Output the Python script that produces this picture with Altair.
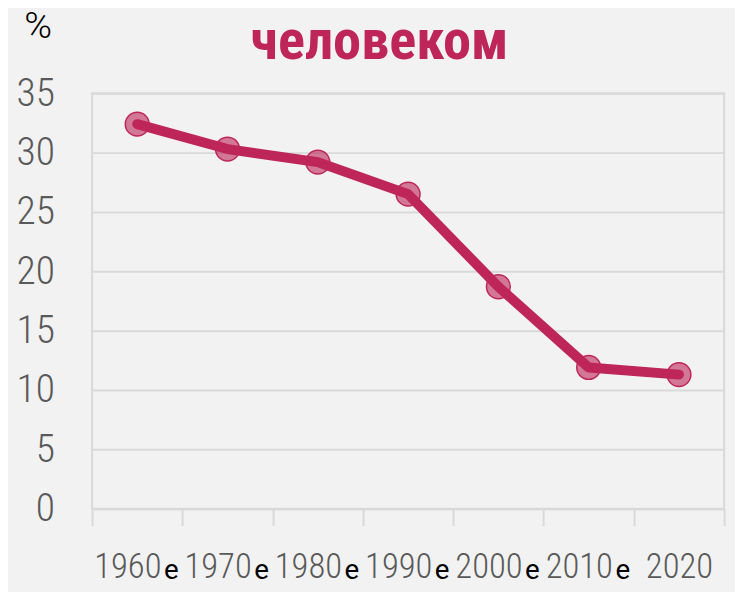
import altair as alt
import pandas as pd

decades = ["1960", "1970", "1980", "1990", "2000", "2010", "2020"]
suffixes = ["е", "е", "е", "е", "е", "е", ""]
values = [32.4, 30.3, 29.2, 26.5, 18.7, 11.9, 11.3]
y_ticks = [0, 5, 10, 15, 20, 25, 30, 35]

df = pd.DataFrame({"decade": decades, "suffix": suffixes, "value": values})

LINE = "#be2558"
GRID = "#d9d9d9"
LABEL = "#595959"
COND_FONT = "'Roboto Condensed', 'Liberation Sans Narrow', 'DejaVu Sans Condensed', Roboto, sans-serif"

x_enc = alt.X(
    "decade:N",
    sort=decades,
    scale=alt.Scale(type="band", paddingInner=0, paddingOuter=0),
    axis=alt.Axis(
        title=None,
        tickBand="extent",
        grid=False,
        domainColor=GRID,
        domainWidth=2,
        tickColor=GRID,
        tickWidth=2,
        tickSize=17,
        labelAngle=0,
        labelFont=COND_FONT,
        labelFontWeight=300,
        labelFontSize=35,
        labelColor=LABEL,
        labelBaseline="alphabetic",
        labelPadding=53,
        labelOffset={"condition": {"test": "datum.value == '2020'", "value": 0}, "value": -10},
    ),
)

y_enc = alt.Y(
    "value:Q",
    scale=alt.Scale(domain=[0, 35], nice=False),
    axis=alt.Axis(
        values=y_ticks,
        title="%",
        titleAngle=0,
        titleX=-55,
        titleY=-67,
        titleAlign="center",
        titleBaseline="middle",
        titleFont="Roboto",
        titleFontWeight=300,
        titleFontSize=38,
        titleColor="#000000",
        domain=False,
        ticks=False,
        gridColor=GRID,
        gridWidth=2,
        labelFont=COND_FONT,
        labelFontWeight=300,
        labelFontSize=40,
        labelColor=LABEL,
        labelPadding=38,
        labelBaseline="middle",
    ),
)

points = alt.Chart(df).mark_circle(
    size=580, color=LINE, fillOpacity=0.6, stroke=LINE, strokeWidth=1.5, opacity=1
).encode(x=x_enc, y=y_enc)

line = alt.Chart(df).mark_line(
    color=LINE, strokeWidth=10, strokeCap="round", strokeJoin="round"
).encode(x=x_enc, y=y_enc)

suffix_text = alt.Chart(df).mark_text(
    align="left", baseline="alphabetic", dx=27, font="Roboto", fontSize=28, color="#000000"
).encode(x=x_enc, y=alt.value(491), text="suffix:N")

chart = alt.layer(points, line, suffix_text).properties(
    width=639,
    height=420,
    autosize=alt.AutoSizeParams(type="none"),
    padding={"left": 85, "top": 83, "right": 11, "bottom": 81},
    background="#f2f2f2",
    title=alt.TitleParams(
        text="человеком",
        anchor="middle",
        frame="group",
        dx=-29,
        offset=-63,
        font="'Roboto Condensed', 'Liberation Sans Narrow', Roboto, sans-serif",
        fontWeight="bold",
        fontSize=57,
        color=LINE,
    ),
).configure_view(stroke=GRID, strokeWidth=2)

chart.save("out.html", embed_options={"renderer": "svg", "actions": False})
